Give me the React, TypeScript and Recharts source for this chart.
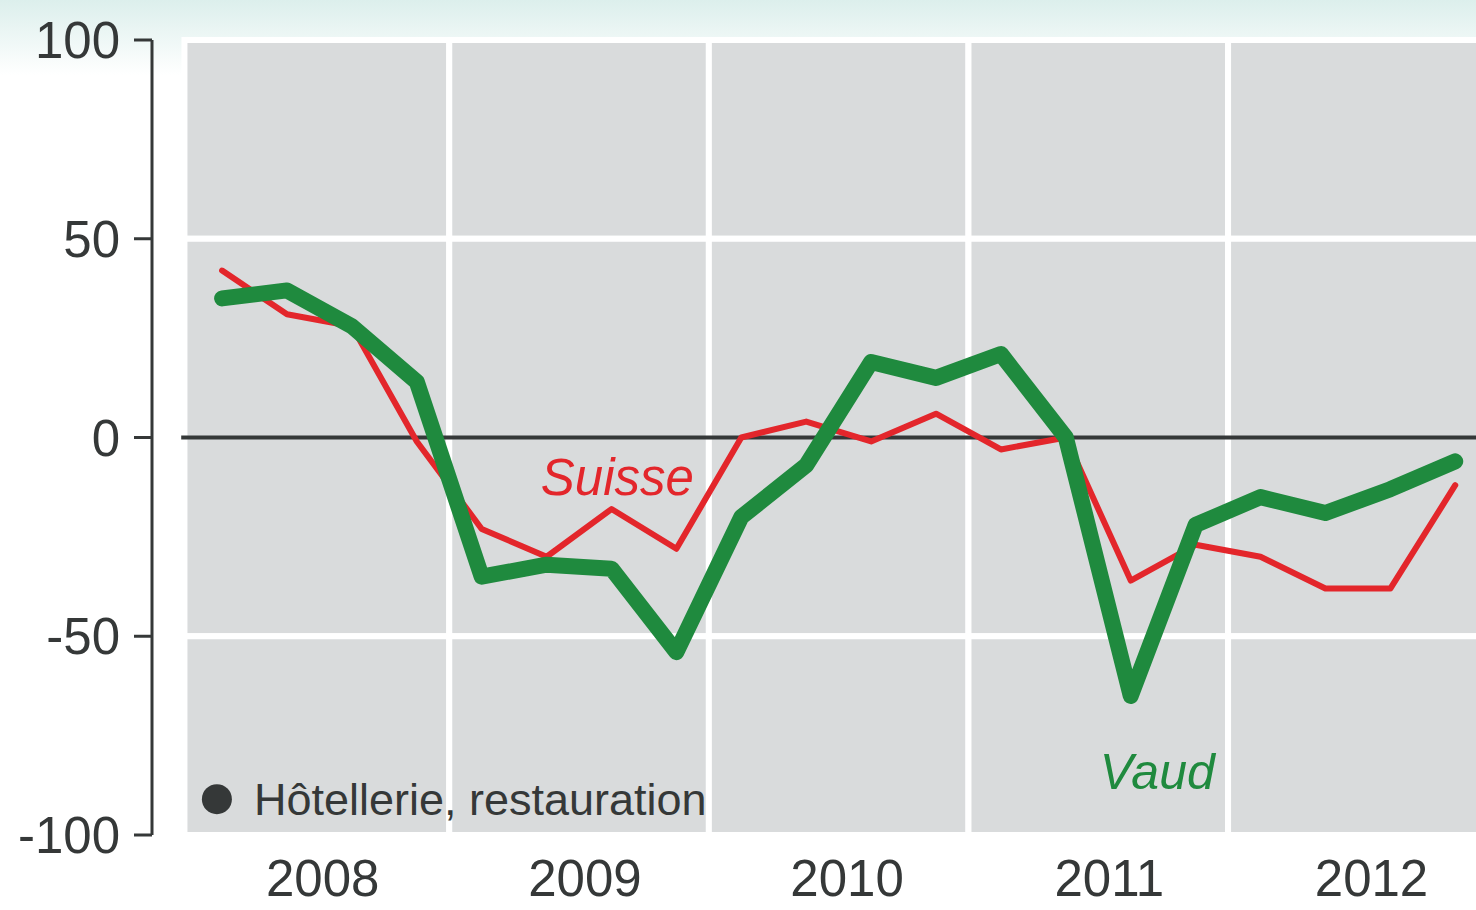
import React from "react";
import {
  LineChart,
  Line,
  XAxis,
  YAxis,
  ReferenceArea,
  ReferenceLine,
  ReferenceDot,
  Label,
} from "recharts";

// trimestres 2008 T1 .. 2012 T4
const quarters = [
  "2008T1", "2008T2", "2008T3", "2008T4",
  "2009T1", "2009T2", "2009T3", "2009T4",
  "2010T1", "2010T2", "2010T3", "2010T4",
  "2011T1", "2011T2", "2011T3", "2011T4",
  "2012T1", "2012T2", "2012T3", "2012T4",
];
const suisse = [42, 31, 28, -1, -23, -30, -18, -28, 0, 4, -1, 6, -3, 0, -36, -27, -30, -38, -38, -12];
const vaud = [35, 37, 28, 14, -35, -32, -33, -54, -20, -7, 19, 15, 21, 0, -65, -22, -15, -19, -13, -6];
const years = [2008, 2009, 2010, 2011, 2012];
const yTicks = [-100, -50, 0, 50, 100];
const bands: [number, number][] = [[50, 100], [-50, 50], [-100, -50]];

const data = quarters.map((q, i) => ({ q, idx: i, suisse: suisse[i], vaud: vaud[i] }));

// year labels sit a touch right of the panel centres in the original
const yearTicks = years.map((_, k) => 1.55 + 4.04 * k);

const RED = "#e3262b";
const GREEN = "#1f8a3e";
const PANEL = "#d9dbdc";
const INK = "#353838";
const FONT = "'Liberation Sans', Arial, sans-serif";

export default function App() {
  return (
    <div
      style={{
        position: "absolute",
        left: 0,
        top: 0,
        width: 1476,
        height: 910,
        background: "linear-gradient(to bottom, #dcefec 0px, #ffffff 75px)",
        fontFamily: FONT,
      }}
    >
      <LineChart
        width={1476}
        height={910}
        data={data}
        margin={{ top: 40, right: 0, left: 0, bottom: 0 }}
      >
        <XAxis
          dataKey="idx"
          type="number"
          domain={[-1.08, 19.32]}
          allowDataOverflow
          ticks={yearTicks}
          tickFormatter={(v: number) => String(years[yearTicks.indexOf(v)])}
          axisLine={false}
          tickLine={false}
          tickSize={0}
          tickMargin={25}
          height={75}
          tick={{ fontSize: 51, fill: INK, fontFamily: FONT }}
        />
        <YAxis
          type="number"
          domain={[-100, 100]}
          ticks={yTicks}
          width={152}
          axisLine={{ stroke: INK, strokeWidth: 3 }}
          tickLine={{ stroke: INK, strokeWidth: 3 }}
          tickSize={18}
          tickMargin={14}
          tick={{ fontSize: 51, fill: INK, fontFamily: FONT }}
        />
        {years.map((y, k) =>
          bands.map(([b1, b2]) => (
            <ReferenceArea
              key={`${y}-${b1}`}
              x1={(k === 0 ? -0.58 : -0.5) + 4 * k}
              x2={3.5 + 4 * k}
              y1={b1}
              y2={b2}
              fill={PANEL}
              fillOpacity={1}
              stroke="#ffffff"
              strokeWidth={6}
              ifOverflow="visible"
            />
          ))
        )}
        <ReferenceLine
          segment={[{ x: -0.63, y: 0 }, { x: 19.32, y: 0 }]}
          stroke={INK}
          strokeWidth={4}
        />
        <ReferenceDot x={-0.08} y={-91} r={15} fill={INK} stroke="none">
          <Label
            position="right"
            offset={22}
            value="Hôtellerie, restauration"
            fontSize={45}
            fill={INK}
            fontFamily={FONT}
          />
        </ReferenceDot>
        <ReferenceDot x={6.09} y={-10} r={0} fill="none" stroke="none">
          <Label
            position="center"
            value="Suisse"
            fontSize={51}
            fontStyle="italic"
            fill={RED}
            fontFamily={FONT}
          />
        </ReferenceDot>
        <ReferenceDot x={14.41} y={-84} r={0} fill="none" stroke="none">
          <Label
            position="center"
            value="Vaud"
            fontSize={50}
            fontStyle="italic"
            fill={GREEN}
            fontFamily={FONT}
          />
        </ReferenceDot>
        <Line
          dataKey="suisse"
          stroke={RED}
          strokeWidth={6}
          dot={false}
          strokeLinejoin="round"
          strokeLinecap="round"
          isAnimationActive={false}
        />
        <Line
          dataKey="vaud"
          stroke={GREEN}
          strokeWidth={16}
          dot={false}
          strokeLinejoin="round"
          strokeLinecap="round"
          isAnimationActive={false}
        />
      </LineChart>
    </div>
  );
}
